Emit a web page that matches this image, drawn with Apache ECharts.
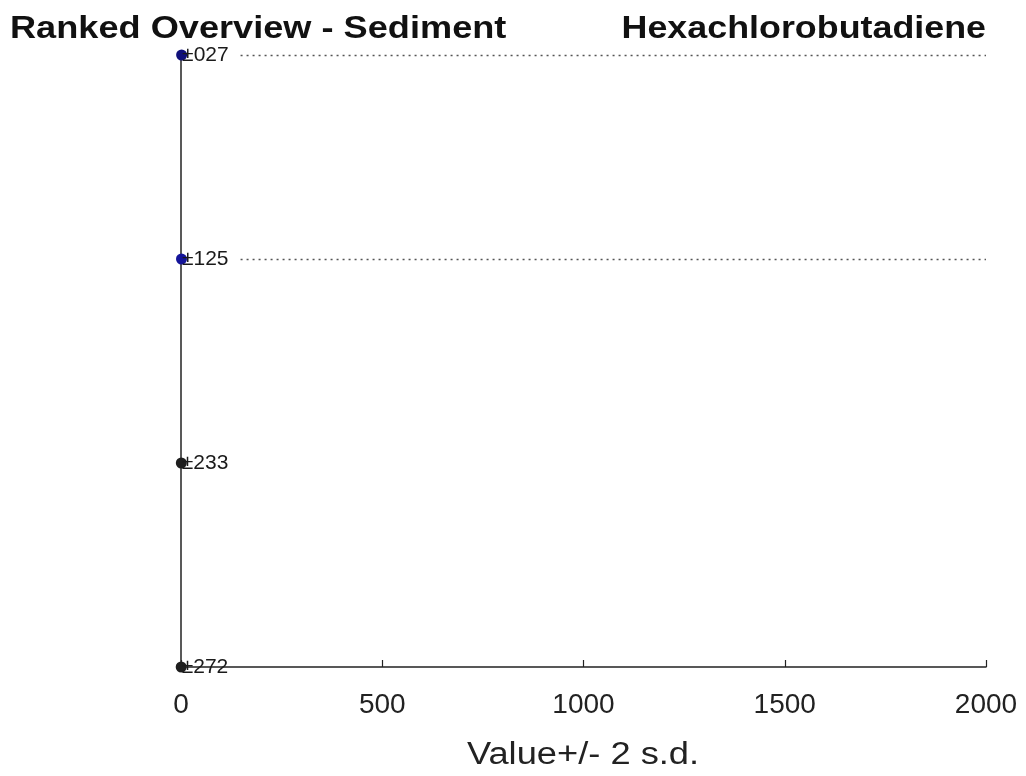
<!DOCTYPE html>
<html><head><meta charset="utf-8">
<script src="https://cdn.jsdelivr.net/npm/echarts@6/dist/echarts.min.js"></script>
<style>html,body{margin:0;padding:0;background:#fff;}#c{width:1026px;height:776px;}</style>
</head><body><div id="c"></div>
<script>
const labs = ['027', '125', '233', '272'];
const values = [1.5, 1.2, 0.8, 0.5];
const pointColors = ['#10107a', '#14149a', '#1e1e1e', '#1e1e1e'];
const highlighted = ['027', '125'];
const xTicks = [0, 500, 1000, 1500, 2000];
const titleLeft = 'Ranked Overview - Sediment';
const titleRight = 'Hexachlorobutadiene';
const xName = 'Value+/- 2 s.d.';

const chart = echarts.init(document.getElementById('c'));
const fam = '"Liberation Sans", Arial, sans-serif';
chart.setOption({
  animation: false,
  backgroundColor: '#fff',
  graphic: [
    {type: 'text', x: 10, y: 29, scaleX: 1.13, style: {text: titleLeft, font: 'bold 32px ' + fam, fill: '#111', textAlign: 'left', textVerticalAlign: 'middle'}},
    {type: 'text', x: 986, y: 29, scaleX: 1.12, style: {text: titleRight, font: 'bold 32px ' + fam, fill: '#111', textAlign: 'right', textVerticalAlign: 'middle'}},
    {type: 'text', x: 583, y: 755, scaleX: 1.17, style: {text: xName, font: '31px ' + fam, fill: '#222', textAlign: 'center', textVerticalAlign: 'middle'}}
  ],
  grid: {left: 181, right: 40, top: 55, bottom: 109},
  xAxis: {
    type: 'value', min: xTicks[0], max: xTicks[xTicks.length-1], interval: 500,
    axisLine: {show: true, onZero: false, lineStyle: {color: '#222', width: 1.5}},
    axisTick: {show: true, inside: true, length: 7, lineStyle: {color: '#222', width: 1.2}},
    axisLabel: {fontFamily: fam, fontSize: 28, color: '#222', margin: 24, formatter: v => String(v)},
    splitLine: {show: false}
  },
  yAxis: {
    type: 'category', data: labs, inverse: true, boundaryGap: false,
    axisLine: {show: true, onZero: false, lineStyle: {color: '#222', width: 1.5}},
    axisTick: {show: false}, axisLabel: {show: false}, splitLine: {show: false}
  },
  series: [
    {
      type: 'scatter',
      symbolSize: 11,
      data: labs.map((l, i) => ({value: [values[i], l], itemStyle: {color: pointColors[i], opacity: 1}})),
      label: {show: true, position: 'right', distance: -5, formatter: p => '\u00b1' + p.value[1], fontFamily: fam, fontSize: 21, color: '#1a1a1a'},
      markLine: {
        silent: true, symbol: 'none', label: {show: false},
        lineStyle: {type: [2, 4], color: '#555', width: 1.3},
        data: highlighted.map(l => [{coord: [148, l]}, {coord: [2000, l]}])
      },
      z: 4
    }
  ]
});
</script></body></html>
